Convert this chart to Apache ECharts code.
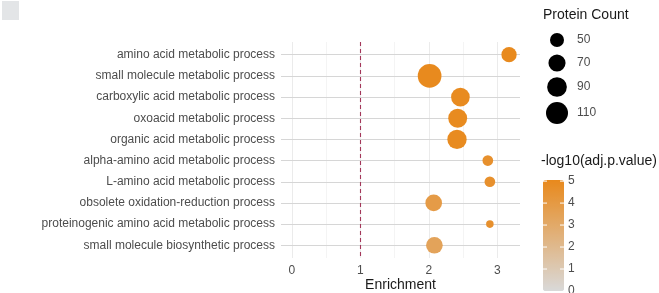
<!DOCTYPE html>
<html>
<head>
<meta charset="utf-8">
<script src="https://cdn.jsdelivr.net/npm/echarts@6/dist/echarts.min.js"></script>
<style>
html,body{margin:0;padding:0;background:#fff;}
#c{width:659px;height:293px;}
</style>
</head>
<body>
<div id="c"></div>
<script>
var categories = [
  "amino acid metabolic process",
  "small molecule metabolic process",
  "carboxylic acid metabolic process",
  "oxoacid metabolic process",
  "organic acid metabolic process",
  "alpha-amino acid metabolic process",
  "L-amino acid metabolic process",
  "obsolete oxidation-reduction process",
  "proteinogenic amino acid metabolic process",
  "small molecule biosynthetic process"
];
var enrichment = [3.17, 2.01, 2.46, 2.42, 2.41, 2.86, 2.89, 2.07, 2.89, 2.08];
var proteinCount = [58, 126, 82, 84, 87, 33, 33, 67, 21, 67];
var negLogP = [5.0, 5.0, 4.95, 4.95, 4.95, 4.6, 4.6, 3.9, 4.6, 3.4];
var xTicks = [0, 1, 2, 3];
var xMinorTicks = [0.5, 1.5, 2.5];
var sizeBreaks = [50, 70, 90, 110];
var colorBreaks = [0, 1, 2, 3, 4, 5];
var thresholdX = 1;

var FONT = '"Liberation Sans", Arial, sans-serif';
function sizeOf(v) { return Math.sqrt(Math.max(4.8 * v - 44, 4)); }

var cMin = 0, cMax = 5.05;
var barTop = 180, barH = 111, barLeft = 543, barW = 21;

var data = categories.map(function (c, i) {
  return [enrichment[i], i + 1, proteinCount[i], negLogP[i]];
});

var graphics = [
  { type: 'rect', shape: { x: 2, y: 1, width: 17, height: 19 }, style: { fill: '#E3E5E7' } },
  { type: 'text', left: 543, top: 8, style: { text: 'Protein Count', font: '14px ' + FONT, fill: '#1a1a1a' } },
  { type: 'text', left: 541, top: 154, style: { text: '-log10(adj.p.value)', font: '14px ' + FONT, fill: '#1a1a1a' } }
];
var legendY = [40, 63, 87, 113];
sizeBreaks.forEach(function (b, i) {
  var r = sizeOf(b) / 2;
  graphics.push({ type: 'circle', shape: { cx: 557, cy: legendY[i], r: r }, style: { fill: '#000' } });
  graphics.push({ type: 'text', x: 577, y: legendY[i], style: { text: String(b), font: '12px ' + FONT, fill: '#4D4D4D', verticalAlign: 'middle' } });
});
colorBreaks.forEach(function (b) {
  var y = barTop + barH * (cMax - b) / (cMax - cMin);
  graphics.push({ type: 'text', x: 568, y: y, style: { text: String(b), font: '12px ' + FONT, fill: '#4D4D4D', verticalAlign: 'middle' } });
  if (b > cMin && b < cMax) {
    graphics.push({ type: 'line', shape: { x1: barLeft, y1: y, x2: barLeft + 4, y2: y }, style: { stroke: '#fff', lineWidth: 1 }, z: 100 });
    graphics.push({ type: 'line', shape: { x1: barLeft + barW - 4, y1: y, x2: barLeft + barW, y2: y }, style: { stroke: '#fff', lineWidth: 1 }, z: 100 });
  }
});

var gridLines = [];
xTicks.forEach(function (v) { gridLines.push({ xAxis: v, lineStyle: { color: '#EBEBEB', width: 1, type: 'solid' } }); });
xMinorTicks.forEach(function (v) { gridLines.push({ xAxis: v, lineStyle: { color: '#F4F4F4', width: 1, type: 'solid' } }); });
categories.forEach(function (c, i) { gridLines.push({ yAxis: i + 1, lineStyle: { color: '#D6D6D6', width: 1.1, type: 'solid' } }); });

var chart = echarts.init(document.getElementById('c'), null, { renderer: 'canvas' });
chart.setOption({
  animation: false,
  backgroundColor: '#fff',
  textStyle: { fontFamily: FONT },
  grid: { left: 281, top: 42, width: 239, height: 216, containLabel: false, outerBoundsMode: 'none' },
  xAxis: {
    type: 'value', min: -0.16, max: 3.33,
    axisLine: { show: false }, axisTick: { show: false }, splitLine: { show: false },
    axisLabel: { customValues: xTicks, color: '#4D4D4D', fontSize: 12, margin: 7, fontFamily: FONT },
    name: 'Enrichment', nameLocation: 'middle', nameGap: 27, nameMoveOverlap: false,
    nameTextStyle: { color: '#1a1a1a', fontSize: 14, fontFamily: FONT, verticalAlign: 'middle' }
  },
  yAxis: {
    type: 'value', inverse: true, min: 0.4, max: 10.6,
    axisLine: { show: false }, axisTick: { show: false }, splitLine: { show: false },
    axisLabel: {
      customValues: categories.map(function (c, i) { return i + 1; }),
      formatter: function (v) { return categories[Math.round(v) - 1] || ''; },
      color: '#4D4D4D', fontSize: 12, margin: 6, fontFamily: FONT
    }
  },
  visualMap: {
    type: 'continuous', seriesIndex: 0, dimension: 3, min: cMin, max: cMax,
    inRange: { color: ['#D9D9D9', '#E8891C'] },
    orient: 'vertical', left: barLeft, top: barTop, itemWidth: barW, itemHeight: barH,
    calculable: false, text: null, showLabel: false, padding: 0,
    handleStyle: { opacity: 0 }, indicatorSize: 0
  },
  graphic: graphics,
  series: [
    {
      type: 'scatter', data: data, z: 5,
      symbolSize: function (d) { return sizeOf(d[2]); },
      itemStyle: { opacity: 1 }
    },
    {
      type: 'scatter', data: [], z: 1, silent: true,
      markLine: { silent: true, symbol: 'none', label: { show: false }, animation: false, data: gridLines }
    },
    {
      type: 'scatter', data: [], z: 2, silent: true,
      markLine: { silent: true, symbol: 'none', label: { show: false }, animation: false,
        data: [{ xAxis: thresholdX, lineStyle: { color: '#A3375A', width: 1.1, type: [4, 3] } }] }
    }
  ]
});
</script>
</body>
</html>
